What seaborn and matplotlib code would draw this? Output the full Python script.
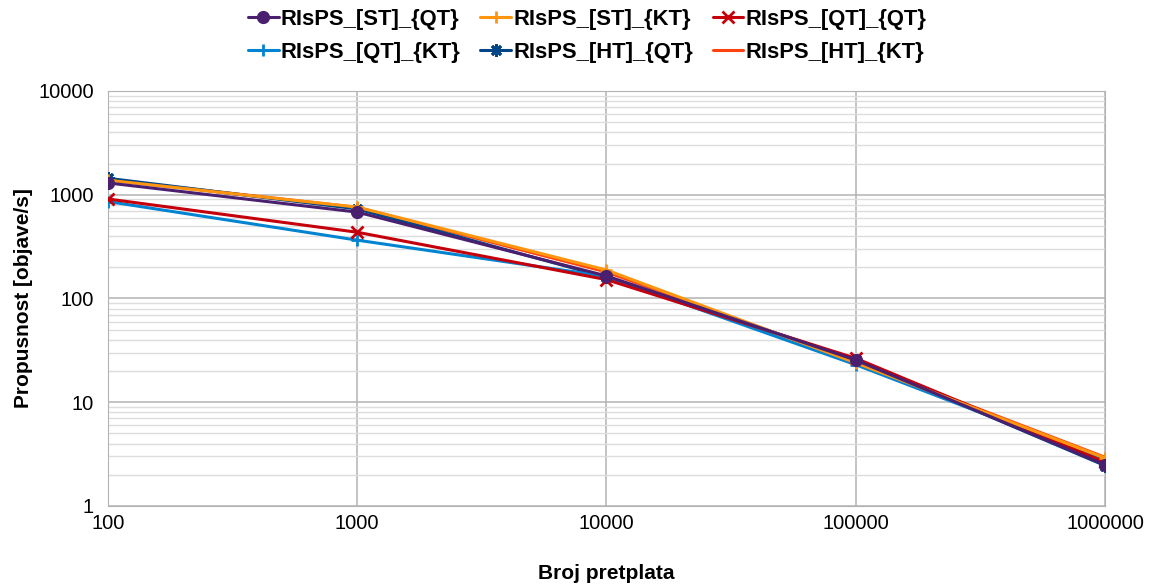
import numpy as np
import pandas as pd
import seaborn as sns
import matplotlib.pyplot as plt
from matplotlib.ticker import FixedLocator, FixedFormatter, LogLocator, NullFormatter

# data
pretplate = [100, 1000, 10000, 100000, 1000000]
st_qt = [1300, 680, 165, 25.5, 2.5]
st_kt = [1380, 760, 188, 24.0, 2.9]
qt_qt = [910, 435, 152, 26.5, 2.65]
qt_kt = [860, 365, 163, 23.0, 2.75]
ht_qt = [1440, 730, 160, 25.8, 2.45]
ht_kt = [1400, 755, 180, 24.5, 2.95]

series = {
    'RIsPS_[ST]_{QT}': st_qt,
    'RIsPS_[ST]_{KT}': st_kt,
    'RIsPS_[QT]_{QT}': qt_qt,
    'RIsPS_[QT]_{KT}': qt_kt,
    'RIsPS_[HT]_{QT}': ht_qt,
    'RIsPS_[HT]_{KT}': ht_kt,
}
colors = ['#4b1f6f', '#ff950e', '#c5000b', '#0084d1', '#004586', '#ff420e']
markers = ['o', '+', 'x', '+', (8, 2, 0), '_']
msizes = [7.5, 9, 8, 9, 9, 9]

rows = []
for name, vals in series.items():
    for x, y in zip(pretplate, vals):
        rows.append({'Broj pretplata': x, 'Propusnost': y, 'serija': name})
df = pd.DataFrame(rows)

sns.set_style('white')
plt.rcParams['font.family'] = ['Liberation Sans', 'DejaVu Sans']
plt.rcParams['text.color'] = 'black'
plt.rcParams['axes.labelcolor'] = 'black'

fig = plt.figure(figsize=(11.56, 5.87), dpi=100)
ax = fig.add_axes([0.0934, 0.138, 0.8625, 0.707])

# draw in reverse so first series end up on top
names = list(series.keys())
order = [4, 5, 3, 2, 1, 0]
for i in order:
    name = names[i]
    sub = df[df['serija'] == name]
    sns.lineplot(data=sub, x='Broj pretplata', y='Propusnost', ax=ax,
                 color=colors[i], marker=markers[i], markersize=msizes[i],
                 markeredgewidth=2, markeredgecolor=colors[i],
                 linewidth=2.2, label=name, zorder=3 + (6 - i))

ax.set_xscale('log')
ax.set_yscale('log')
ax.set_xlim(100, 1000000)
ax.set_ylim(1, 10000)

ax.xaxis.set_major_locator(FixedLocator(pretplate))
ax.xaxis.set_major_formatter(FixedFormatter([str(v) for v in pretplate]))
ax.xaxis.set_minor_locator(FixedLocator([]))
yt = [1, 10, 100, 1000, 10000]
ax.yaxis.set_major_locator(FixedLocator(yt))
ax.yaxis.set_major_formatter(FixedFormatter([str(v) for v in yt]))
ax.yaxis.set_minor_locator(LogLocator(base=10, subs=np.arange(2, 10)))
ax.yaxis.set_minor_formatter(NullFormatter())

ax.grid(True, which='major', color='#b3b3b3', linewidth=1.1)
ax.grid(True, which='minor', axis='y', color='#dddddd', linewidth=1)
ax.tick_params(axis='both', which='both', length=0, labelsize=14.5,
               labelcolor='black')
ax.tick_params(axis='x', pad=6)
ax.tick_params(axis='y', pad=10)
for s in ax.spines.values():
    s.set_color('#b3b3b3')

ax.set_xlabel('Broj pretplata', fontsize=15, fontweight='bold', labelpad=22)
ax.set_ylabel('Propusnost [objave/s]', fontsize=15, fontweight='bold', labelpad=4)

h, l = ax.get_legend_handles_labels()
hd = dict(zip(l, h))
leg_order = [names[0], names[3], names[1], names[4], names[2], names[5]]
ax.legend([hd[n] for n in leg_order], leg_order, ncol=3, loc='upper center',
          bbox_to_anchor=(0.508, 1.0), bbox_transform=fig.transFigure,
          frameon=False,
          prop={'weight': 'bold', 'size': 15.8}, handlelength=1.4,
          handletextpad=0.1, columnspacing=0.9, labelspacing=0.55,
          borderaxespad=0)

fig.savefig('out.png', dpi=100)
